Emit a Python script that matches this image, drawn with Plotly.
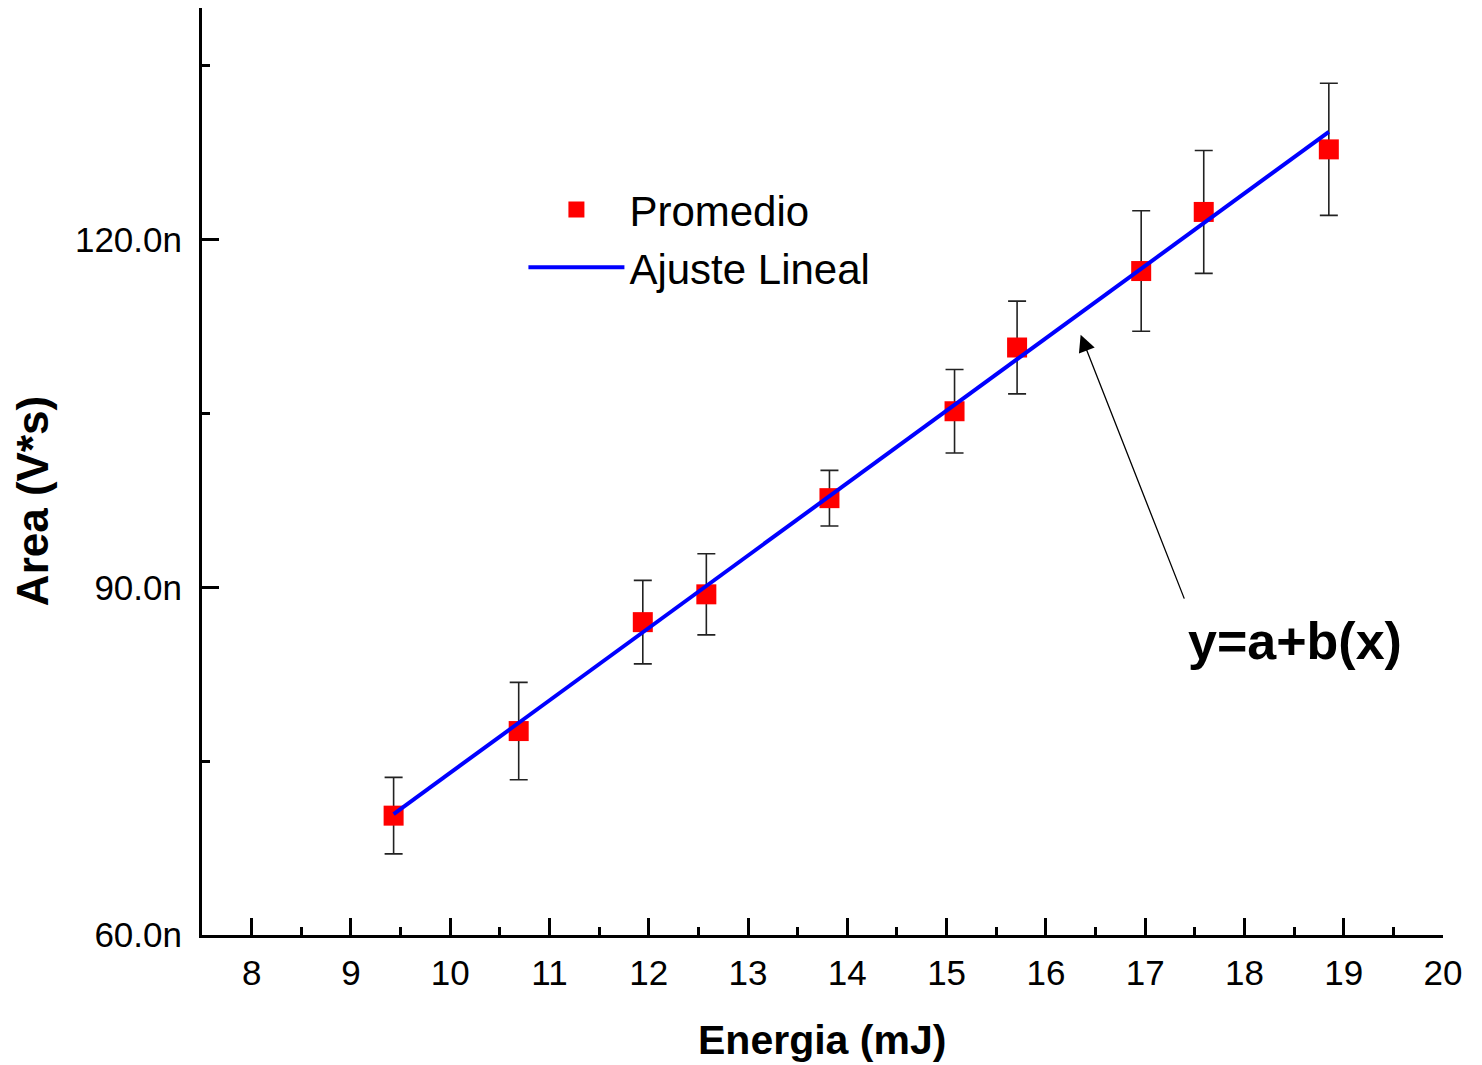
import plotly.graph_objects as go

# Data (Area in nV*s)
energia = [9.43, 10.69, 11.94, 12.58, 13.82, 15.08, 15.71, 16.96, 17.59, 18.85]
area = [70.3, 77.6, 87.0, 89.4, 97.7, 105.2, 110.7, 117.3, 122.4, 127.8]
area_err = [3.3, 4.2, 3.6, 3.5, 2.4, 3.6, 4.0, 5.2, 5.3, 5.7]

# Linear fit coefficients: y = a + b*x
fit_a = 11.5
fit_b = 6.25
fit_x = [energia[0], energia[-1]]
fit_y = [fit_a + fit_b * v for v in fit_x]

x_ticks = list(range(8, 21))
y_ticks = [60, 90, 120]
y_ticklabels = ["60.0n", "90.0n", "120.0n"]

FONT = "Arial, Liberation Sans, sans-serif"

fig = go.Figure()
fig.add_trace(go.Scatter(
    x=energia, y=area, mode="markers", name="Promedio",
    marker=dict(symbol="square", size=20, color="#ff0000"),
    error_y=dict(type="data", array=area_err, color="#222222", thickness=1.6, width=9),
))
fig.add_trace(go.Scatter(
    x=fit_x, y=fit_y, mode="lines", name="Ajuste Lineal",
    line=dict(color="#0000ff", width=4),
))

# arrow
fig.add_annotation(x=16.35, y=111.8, ax=17.40, ay=88.9, xref="x", yref="y",
                   axref="x", ayref="y", text="", showarrow=True,
                   arrowhead=2, arrowsize=2.6, arrowwidth=1.3, arrowcolor="black")
fig.add_annotation(x=18.51, y=85.4, xref="x", yref="y", text="<b>y=a+b(x)</b>",
                   showarrow=False, font=dict(size=52, color="black", family=FONT))
# axis titles
fig.add_annotation(x=-0.137, y=0.468, xref="paper", yref="paper", text="<b>Area (V*s)</b>",
                   textangle=-90, showarrow=False, xanchor="center", yanchor="middle",
                   font=dict(size=44, color="black", family=FONT))
fig.add_annotation(x=0.4995, y=-0.113, xref="paper", yref="paper", text="<b>Energia (mJ)</b>",
                   showarrow=False, xanchor="center", yanchor="middle",
                   font=dict(size=41, color="black", family=FONT))

fig.update_layout(
    width=1482, height=1065,
    margin=dict(l=202, r=39, t=8, b=130),
    paper_bgcolor="white", plot_bgcolor="white",
    font=dict(family=FONT, color="black"),
    showlegend=True,
    legend=dict(x=0.259, y=0.819, xanchor="left", yanchor="top",
                font=dict(size=42, family=FONT, color="black"),
                bgcolor="rgba(0,0,0,0)", itemwidth=96, tracegroupgap=0),
)
fig.update_xaxes(
    range=[7.5, 20], showgrid=False, zeroline=False, automargin=False,
    showline=True, linecolor="black", linewidth=3,
    ticks="inside", ticklen=17, tickwidth=2.5, tickcolor="black",
    tickvals=x_ticks, tickfont=dict(size=35, family=FONT, color="black"),
    ticklabelstandoff=5,
    minor=dict(dtick=0.5, tick0=7.5, ticks="inside", ticklen=8, tickwidth=2.5, tickcolor="black"),
)
fig.update_yaxes(
    range=[60, 140], showgrid=False, zeroline=False, automargin=False,
    showline=True, linecolor="black", linewidth=3,
    ticks="inside", ticklen=17, tickwidth=2.5, tickcolor="black",
    tickvals=y_ticks, ticktext=y_ticklabels,
    tickfont=dict(size=35, family=FONT, color="black"),
    ticklabelstandoff=10,
    minor=dict(dtick=15, tick0=60, ticks="inside", ticklen=8, tickwidth=2.5, tickcolor="black"),
)

fig.write_html("out.html")
